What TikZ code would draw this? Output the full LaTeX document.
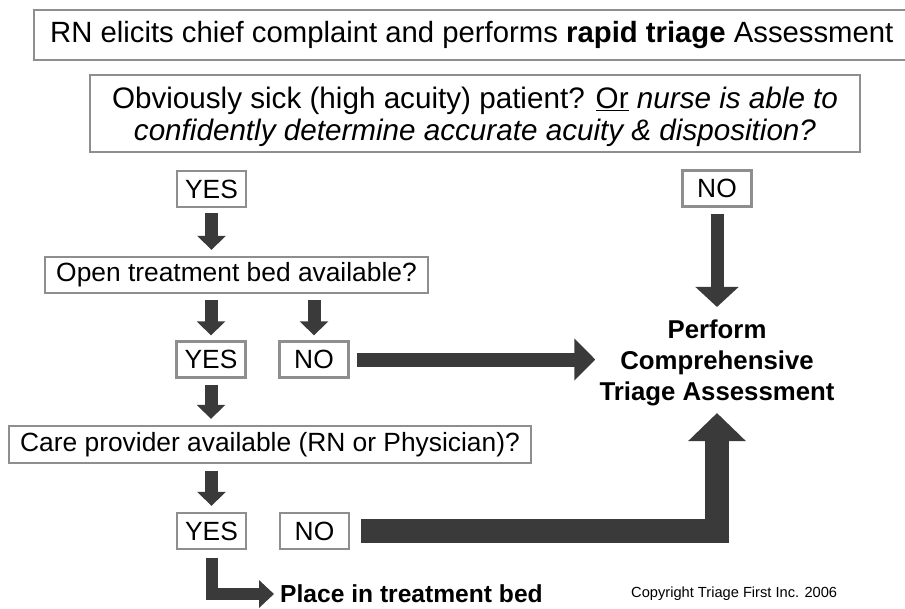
\documentclass[tikz,border=0pt]{standalone}
\usepackage{fontspec}
\setmainfont{Liberation Sans}
\usetikzlibrary{arrows.meta,positioning}
\definecolor{boxgray}{HTML}{8E8E8E}
\definecolor{arrgray}{HTML}{3A3A3A}
\newcommand{\toptxt}{\fontsize{25pt}{27pt}\selectfont}
\newcommand{\bigtxt}{\fontsize{25.3pt}{27.3pt}\selectfont}
\newcommand{\boxtxt}{\fontsize{22.5pt}{26pt}\selectfont}
\newcommand{\boldtxt}{\fontsize{22pt}{26.5pt}\selectfont\bfseries}
\newcommand{\smalltxt}{\fontsize{12.5pt}{14pt}\selectfont}
\tikzset{
  frame/.style={draw=boxgray,line width=2pt,fill=white,inner sep=0pt},
  ansbox/.style={frame,minimum width=2.07cm,minimum height=1.08cm,font=\boxtxt},
  qbox/.style={frame,font=\boxtxt},
  outtxt/.style={font=\boldtxt,align=center,inner sep=0pt},
  flow/.style n args={3}{draw=arrgray,line width=#1,line join=miter,-{Triangle[length=#2,width=#3]}}
}

\begin{document}
\begin{tikzpicture}[x=0.03cm,y=-0.03cm]
  \useasboundingbox (0,0) rectangle (905,608);

  \node[frame,font=\toptxt,minimum width=26.27cm,minimum height=1.5cm] (rapid) at (471.75,35)
    {RN elicits chief complaint and performs \textbf{rapid triage} Assessment};
  \node[frame,font=\bigtxt,align=center,text depth=-1.5pt,minimum width=23.1cm,minimum height=2.31cm] (sick) at (475,113.5)
    {Obviously sick (high acuity) patient? \underline{Or} \textit{nurse is able to}\\
     \textit{confidently determine accurate acuity \& disposition?}};

  \node[ansbox] (yesA) at (211.5,189) {YES};
  \node[ansbox] (noA) at (717,188.5) {NO};
  \node[qbox,minimum width=11.49cm,minimum height=1.08cm] (bed) at (236.5,275) {Open treatment bed available?};
  \node[ansbox] (yesB) at (211,359.5) {YES};
  \node[ansbox] (noB) at (314,359.5) {NO};
  \node[qbox,minimum width=15.66cm,minimum height=1.11cm] (care) at (270,444.5) {Care provider available (RN or Physician)?};
  \node[ansbox] (yesC) at (211.5,531) {YES};
  \node[ansbox] (noC) at (314.5,531) {NO};

  \node[outtxt] (full) at (717,363) {Perform\\Comprehensive\\Triage Assessment};
  \node[outtxt,font=\fontsize{21pt}{25pt}\selectfont\bfseries,anchor=west,inner xsep=0.18cm] (place) at (274,594) {Place in treatment bed};
  \node[font=\smalltxt,anchor=west,inner sep=0pt] (copy) at (631,594) {Copyright Triage First Inc. 2006};

  % yes path
  \draw[flow={0.39cm}{0.42cm}{0.84cm},shorten <=0.15cm,shorten >=0.18cm] (yesA.south) -- (yesA.south |- bed.north);
  \draw[flow={0.39cm}{0.42cm}{0.84cm},shorten <=0.18cm,shorten >=0.15cm] (yesB.north |- bed.south) -- (yesB.north);
  \draw[flow={0.39cm}{0.42cm}{0.84cm},shorten <=0.18cm,shorten >=0.15cm] (noB.north |- bed.south) -- (noB.north);
  \draw[flow={0.39cm}{0.42cm}{0.84cm},shorten <=0.18cm,shorten >=0.18cm] (yesB.south) -- (yesB.south |- care.north);
  \draw[flow={0.39cm}{0.42cm}{0.84cm},shorten <=0.21cm,shorten >=0.18cm] (yesC.north |- care.south) -- (yesC.north);
  \draw[flow={0.36cm}{0.45cm}{0.81cm},shorten <=0.24cm] (yesC.south) |- (place.west);

  % no paths
  \draw[flow={0.39cm}{0.6cm}{1.26cm},shorten <=0.18cm,shorten >=0.38cm] (noA.south) -- (full.north);
  \draw[flow={0.42cm}{0.63cm}{1.23cm},shorten <=0.21cm,shorten >=0.12cm] (noB.east) -- (noB.east -| full.west);
  \draw[flow={0.72cm}{0.84cm}{1.68cm},shorten <=0.33cm,shorten >=0.2cm] (noC.east) -| (full.south);
\end{tikzpicture}
\end{document}
